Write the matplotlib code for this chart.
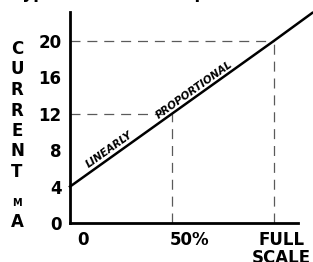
import numpy as np
import matplotlib
matplotlib.use("Agg")
import matplotlib.pyplot as plt
import matplotlib.transforms as mtransforms

# values
span_pct = [0, 50, 100, 119]
current_ma = [4, 12, 20, 23.1]
guide_pct = [50, 100]
guide_ma = [12, 20]
y_ticks = [0, 4, 8, 12, 16, 20]
x_ticks = [0, 50, 100]
x_tick_labels = ["0", "50%", "FULL\nSCALE"]

plt.rcParams['font.family'] = ['DejaVu Sans']

fig = plt.figure(figsize=(3.13, 2.62), dpi=100)
ax = fig.add_axes([70 / 313, 39 / 262, 228 / 313, 211 / 262])
ax.set_xlim(0, 112)
ax.set_ylim(0, 23.2)

# dashed guide lines at 50% and full scale
for gx, gy in zip(guide_pct, guide_ma):
    ax.plot([0, gx], [gy, gy], color='#5a5a5a', lw=0.9, dashes=(8, 5.5))
    ax.plot([gx, gx], [0, gy], color='#5a5a5a', lw=0.9, dashes=(8, 5.5))

# the 4-20 mA line
ax.plot(span_pct, current_ma, color='black', lw=1.8, clip_on=False, zorder=3)

for side in ['top', 'right']:
    ax.spines[side].set_visible(False)
for side in ['left', 'bottom']:
    ax.spines[side].set_linewidth(2.0)

ax.set_yticks(y_ticks)
ax.set_yticklabels([str(v) for v in y_ticks])
ax.set_xticks(x_ticks)
ax.set_xticklabels(x_tick_labels, linespacing=1.0)
ax.tick_params(length=0, labelsize=12, pad=6)
for lbl in ax.get_yticklabels() + ax.get_xticklabels():
    lbl.set_fontweight('bold')

# nudge the x labels like the original
shifts = [(7, 0, 'left'), (-2, 0, 'left'), (8, 0, 'center')]
for lbl, (dx, dy, ha) in zip(ax.get_xticklabels(), shifts):
    off = mtransforms.ScaledTranslation(dx / 100, dy / 100, fig.dpi_scale_trans)
    lbl.set_transform(lbl.get_transform() + off)
    lbl.set_ha(ha)

# slanted labels along the line
slope = (current_ma[2] - current_ma[0]) / (span_pct[2] - span_pct[0])
ang = np.degrees(np.arctan(slope))
ax.text(10.0, 5.9, "LINEARLY", rotation=ang, transform_rotates_text=True,
        rotation_mode='anchor', ha='left', va='bottom', fontsize=7.5,
        fontweight='bold', style='italic')
ax.text(44.0, 11.3, "PROPORTIONAL", rotation=ang, transform_rotates_text=True,
        rotation_mode='anchor', ha='left', va='bottom', fontsize=7.5,
        fontweight='bold', style='italic')

# vertical axis title, one letter per row
for i, ch in enumerate("CURRENT"):
    fig.text(17 / 313, 1 - (49 + i * 20.5) / 262, ch, ha='center',
             va='center', fontsize=12, fontweight='bold')
fig.text(17 / 313, 1 - 203 / 262, "M", ha='center', va='center', fontsize=7,
         fontweight='bold')
fig.text(17 / 313, 1 - 222 / 262, "A", ha='center', va='center', fontsize=12,
         fontweight='bold')

# title cut off at the top of the picture
fig.text(0.04, 1 + 2 / 262, "Typical Current Output", ha='left',
         va='baseline', fontsize=12, fontweight='bold')

fig.savefig("out.png", dpi=100)
